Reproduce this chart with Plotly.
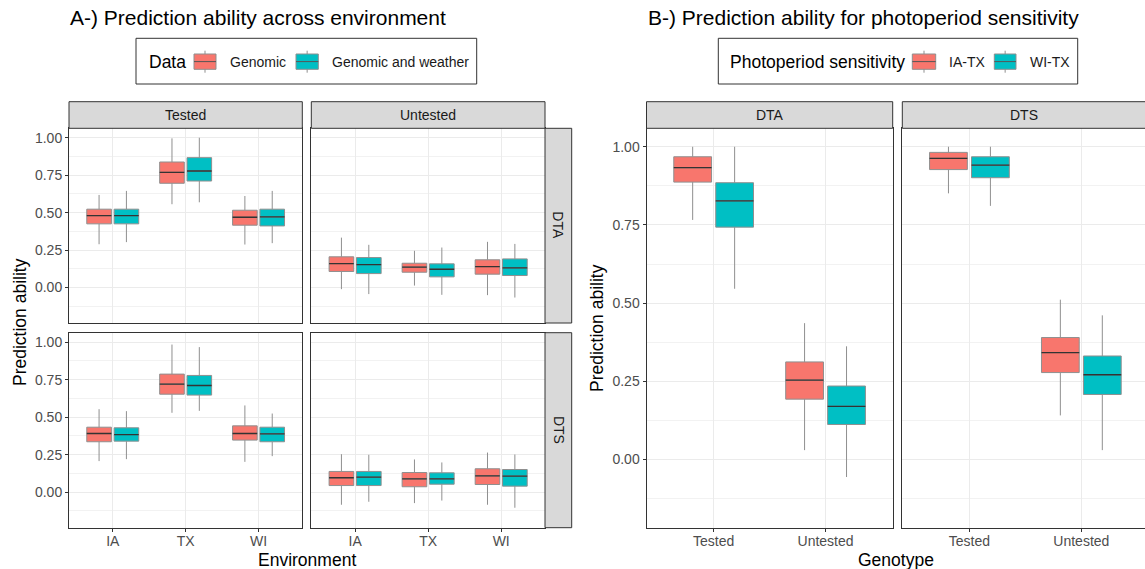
import plotly.graph_objects as go

# ---------------------------------------------------------------- data
# each box: (lower whisker, Q1, median, Q3, upper whisker)
environments = ["IA", "TX", "WI"]
genotype_groups = ["Tested", "Untested"]

dta_tested_genomic = [(0.289, 0.425, 0.480, 0.523, 0.618),
                      (0.556, 0.696, 0.769, 0.838, 0.996),
                      (0.287, 0.416, 0.469, 0.516, 0.611)]
dta_tested_weather = [(0.303, 0.425, 0.480, 0.523, 0.645),
                      (0.569, 0.711, 0.778, 0.867, 1.000),
                      (0.296, 0.411, 0.471, 0.523, 0.645)]
dta_untested_genomic = [(-0.011, 0.107, 0.160, 0.205, 0.333),
                        (0.013, 0.102, 0.136, 0.162, 0.245),
                        (-0.051, 0.089, 0.140, 0.185, 0.305)]
dta_untested_weather = [(-0.044, 0.093, 0.153, 0.200, 0.285),
                        (-0.049, 0.071, 0.122, 0.158, 0.267),
                        (-0.067, 0.080, 0.131, 0.191, 0.291)]
dts_tested_genomic = [(0.207, 0.336, 0.391, 0.433, 0.553),
                      (0.529, 0.653, 0.720, 0.787, 0.984),
                      (0.202, 0.347, 0.391, 0.442, 0.578)]
dts_tested_weather = [(0.220, 0.340, 0.384, 0.429, 0.540),
                      (0.542, 0.647, 0.711, 0.778, 0.967),
                      (0.240, 0.336, 0.389, 0.433, 0.524)]
dts_untested_genomic = [(-0.084, 0.044, 0.096, 0.138, 0.253),
                        (-0.073, 0.036, 0.089, 0.131, 0.218),
                        (-0.084, 0.051, 0.109, 0.156, 0.264)]
dts_untested_weather = [(-0.064, 0.044, 0.100, 0.138, 0.249),
                        (-0.056, 0.053, 0.089, 0.129, 0.198),
                        (-0.104, 0.040, 0.107, 0.151, 0.251)]

# photoperiod sensitivity, by genotype group (Tested, Untested)
photo_dta_iatx = [(0.766, 0.887, 0.933, 0.968, 1.000),
                  (0.030, 0.193, 0.254, 0.312, 0.436)]
photo_dta_witx = [(0.546, 0.743, 0.827, 0.885, 1.000),
                  (-0.056, 0.112, 0.170, 0.235, 0.362)]
photo_dts_iatx = [(0.851, 0.927, 0.963, 0.982, 1.000),
                  (0.141, 0.278, 0.342, 0.390, 0.511)]
photo_dts_witx = [(0.811, 0.901, 0.941, 0.968, 1.000),
                  (0.030, 0.208, 0.271, 0.331, 0.461)]

# ---------------------------------------------------------------- style
W, H = 1145, 569
RED, TEAL = "#F8766D", "#00BFC4"
OUTLINE = "#8f8f8f"
MEDIAN = "#333333"
FRAME = "#333333"
STRIP_FILL = "#d9d9d9"
TICK_TXT = "#4d4d4d"
FONT = "Liberation Sans, Arial, sans-serif"
BOX_W = 0.3375
DODGE = 0.1875


def fx(p):
    return p / W


def fy(p):
    return 1 - p / H


# panel id, x0, x1, y0, y1 (pixels), x range, y range, categories,
# show x tick labels, show y tick labels, series
A_YR = [-0.237, 1.063]
B_YR = [-0.218, 1.059]
panels = [
    (1, 69.0, 302.3, 128.3, 323.0, [0.4, 3.6], A_YR, environments, False, True,
     [dta_tested_genomic, dta_tested_weather]),
    (2, 311.3, 545.0, 128.3, 323.0, [0.4, 3.6], A_YR, environments, False, False,
     [dta_untested_genomic, dta_untested_weather]),
    (3, 69.0, 302.3, 332.7, 527.7, [0.4, 3.6], A_YR, environments, True, True,
     [dts_tested_genomic, dts_tested_weather]),
    (4, 311.3, 545.0, 332.7, 527.7, [0.4, 3.6], A_YR, environments, True, False,
     [dts_untested_genomic, dts_untested_weather]),
    (5, 646.5, 892.7, 128.3, 527.7, [0.4, 2.6], B_YR, genotype_groups, True, True,
     [photo_dta_iatx, photo_dta_witx]),
    (6, 902.3, 1145.0, 128.3, 527.7, [0.4, 2.569], B_YR, genotype_groups, True, False,
     [photo_dts_iatx, photo_dts_witx]),
]

fig = go.Figure()
layout = dict(
    width=W, height=H, autosize=False,
    margin=dict(l=0, r=0, t=0, b=0),
    paper_bgcolor="white", plot_bgcolor="white",
    font=dict(family=FONT, color="black"),
    showlegend=False,
    boxmode="overlay",
)

for pid, x0, x1, y0, y1, xr, yr, cats, show_x, show_y, series in panels:
    xa, ya = f"x{pid}", f"y{pid}"
    layout[f"xaxis{pid}"] = dict(
        domain=[fx(x0), fx(x1)], anchor=ya, range=xr,
        tickmode="array", tickvals=list(range(1, len(cats) + 1)), ticktext=cats,
        showticklabels=show_x, ticks="outside" if show_x else "", ticklen=3,
        ticklabelstandoff=-3,
        tickcolor=FRAME, tickfont=dict(size=14, color=TICK_TXT, family=FONT),
        showgrid=True, gridcolor="#ebebeb", gridwidth=1, zeroline=False,
        showline=True, mirror=True, linecolor=FRAME, linewidth=1,
    )
    layout[f"yaxis{pid}"] = dict(
        domain=[fy(y1), fy(y0)], anchor=xa, range=yr,
        tickmode="linear", tick0=0, dtick=0.25, tickformat=".2f",
        showticklabels=show_y, ticks="outside" if show_y else "", ticklen=3,
        tickcolor=FRAME, tickfont=dict(size=14, color=TICK_TXT, family=FONT),
        showgrid=True, gridcolor="#ebebeb", gridwidth=1, zeroline=False,
        minor=dict(tick0=0.125, dtick=0.25, showgrid=True,
                   gridcolor="#f2f2f2", gridwidth=0.7),
        showline=True, mirror=True, linecolor=FRAME, linewidth=1,
    )
    for s, (stats, colour) in enumerate(zip(series, [RED, TEAL])):
        off = -DODGE if s == 0 else DODGE
        pos = [k + 1 + off for k in range(len(stats))]
        lo = [b[0] for b in stats]
        q1 = [b[1] for b in stats]
        med = [b[2] for b in stats]
        q3 = [b[3] for b in stats]
        hi = [b[4] for b in stats]
        fig.add_trace(go.Box(
            x=pos, q1=q1, median=med, q3=q3, lowerfence=lo, upperfence=hi,
            orientation="v", width=BOX_W, whiskerwidth=0, boxpoints=False,
            fillcolor=colour, line=dict(color=OUTLINE, width=1),
            xaxis=xa, yaxis=ya, showlegend=False, hoverinfo="skip",
        ))
        # darker median bar on top of each box
        mx, my = [], []
        for p, m in zip(pos, med):
            mx += [p - BOX_W / 2, p + BOX_W / 2, None]
            my += [m, m, None]
        fig.add_trace(go.Scatter(
            x=mx, y=my, mode="lines", line=dict(color=MEDIAN, width=1.3),
            xaxis=xa, yaxis=ya, showlegend=False, hoverinfo="skip",
        ))

shapes = []
annotations = []


def rect(x0, y0, x1, y1, fill, line=FRAME, width=1):
    shapes.append(dict(type="rect", xref="paper", yref="paper",
                       x0=fx(x0), x1=fx(x1), y0=fy(y1), y1=fy(y0),
                       fillcolor=fill, line=dict(color=line, width=width),
                       layer="above"))


def seg(x0, y0, x1, y1, colour, width=1):
    shapes.append(dict(type="line", xref="paper", yref="paper",
                       x0=fx(x0), x1=fx(x1), y0=fy(y0), y1=fy(y1),
                       line=dict(color=colour, width=width), layer="above"))


def text(x, y, s, size, colour="black", xanchor="center", angle=0):
    annotations.append(dict(xref="paper", yref="paper", x=fx(x), y=fy(y),
                            text=s, showarrow=False, xanchor=xanchor,
                            yanchor="middle", textangle=angle,
                            font=dict(size=size, color=colour, family=FONT)))


STRIP_TXT = "#1a1a1a"
# facet strips of panel A
rect(69.0, 101.7, 302.3, 128.3, STRIP_FILL)
rect(311.3, 101.7, 545.0, 128.3, STRIP_FILL)
text((69.0 + 302.3) / 2, 115, "Tested", 14, STRIP_TXT)
text((311.3 + 545.0) / 2, 115, "Untested", 14, STRIP_TXT)
rect(545.0, 128.3, 571.7, 323.0, STRIP_FILL)
rect(545.0, 332.7, 571.7, 527.7, STRIP_FILL)
text(558.3, (128.3 + 323.0) / 2, "DTA", 14, STRIP_TXT, angle=90)
text(558.3, (332.7 + 527.7) / 2, "DTS", 14, STRIP_TXT, angle=90)
# facet strips of panel B
rect(646.5, 101.7, 892.7, 128.3, STRIP_FILL)
rect(902.3, 101.7, 1146.0, 128.3, STRIP_FILL)
text((646.5 + 892.7) / 2, 115, "DTA", 14, STRIP_TXT)
text((902.3 + 1145.0) / 2, 115, "DTS", 14, STRIP_TXT)

# titles
text(68, 18, "A-) Prediction ability across environment", 21, "black", "left")
text(646, 18, "B-) Prediction ability for photoperiod sensitivity", 21, "black", "left")

# axis titles
text(20, 322, "Prediction ability", 17.5, "black", angle=-90)
text(597, 328, "Prediction ability", 17.5, "black", angle=-90)
text(307, 560, "Environment", 17.5)
text(896, 560, "Genotype", 17.5)


def legend_key(x0, x1, colour):
    xm = (x0 + x1) / 2
    seg(xm, 50.7, xm, 72.7, OUTLINE)
    rect(x0, 54.0, x1, 69.3, colour, OUTLINE)
    seg(x0, 61.6, x1, 61.6, "#555555", 1)


# legend of panel A
rect(136.0, 38.3, 476.7, 84.0, "white")
text(147, 61.5, "Data", 17.5, "black", "left")
legend_key(194.0, 216.0, RED)
text(227.7, 61.5, "Genomic", 14, "#1a1a1a", "left")
legend_key(296.0, 318.3, TEAL)
text(330.0, 61.5, "Genomic and weather", 14, "#1a1a1a", "left")

# legend of panel B
rect(718.3, 38.3, 1077.7, 84.0, "white")
text(727.7, 61.5, "Photoperiod sensitivity", 17.5, "black", "left")
legend_key(912.3, 935.7, RED)
text(947.3, 61.5, "IA-TX", 14, "#1a1a1a", "left")
legend_key(994.3, 1016.0, TEAL)
text(1027.7, 61.5, "WI-TX", 14, "#1a1a1a", "left")

layout["shapes"] = shapes
layout["annotations"] = annotations
fig.update_layout(**layout)

fig.write_html("out.html")
